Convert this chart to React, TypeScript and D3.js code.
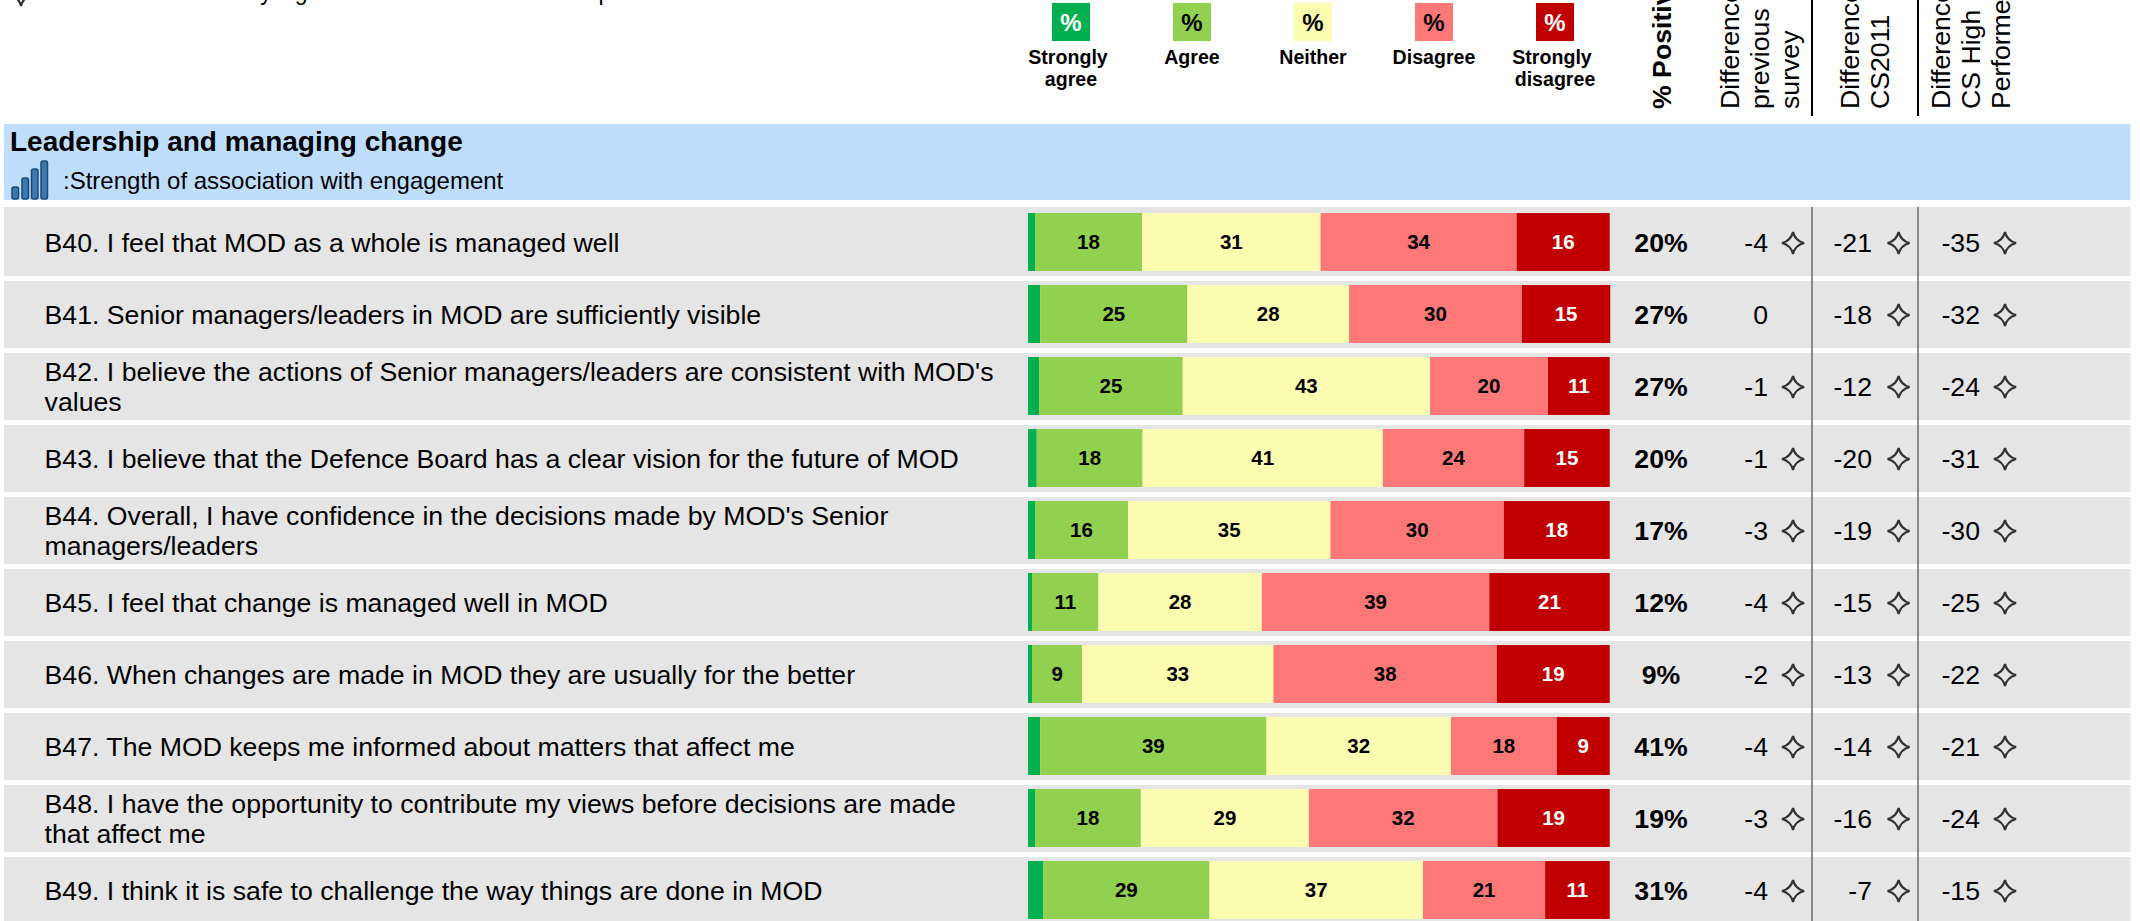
import React from "react";
import * as d3 from "d3";

const questionLines: string[][] = [
  ["B40. I feel that MOD as a whole is managed well"],
  ["B41. Senior managers/leaders in MOD are sufficiently visible"],
  ["B42. I believe the actions of Senior managers/leaders are consistent with MOD's", "values"],
  ["B43. I believe that the Defence Board has a clear vision for the future of MOD"],
  ["B44. Overall, I have confidence in the decisions made by MOD's Senior", "managers/leaders"],
  ["B45. I feel that change is managed well in MOD"],
  ["B46. When changes are made in MOD they are usually for the better"],
  ["B47. The MOD keeps me informed about matters that affect me"],
  ["B48. I have the opportunity to contribute my views before decisions are made", "that affect me"],
  ["B49. I think it is safe to challenge the way things are done in MOD"],
];
const seriesNames = ["Strongly agree", "Agree", "Neither", "Disagree", "Strongly disagree"];
const legendLines = [["Strongly", "agree"], ["Agree"], ["Neither"], ["Disagree"], ["Strongly", "disagree"]];
const seriesColors = ["#00B050", "#92D050", "#FCFDB0", "#FF7878", "#C00000"];
const seriesInk = ["#fff", "#000", "#000", "#000", "#fff"];

const stronglyAgree = [1.2, 2.1, 1.9, 1.5, 1.2, 0.7, 0.7, 2.1, 1.2, 2.6];
const agree = [18.4, 25.3, 24.7, 18.2, 16.0, 11.4, 8.6, 38.9, 18.2, 28.6];
const neither = [30.7, 27.8, 42.5, 41.3, 34.8, 28.1, 32.9, 31.7, 28.9, 36.7];
const disagree = [33.7, 29.7, 20.3, 24.3, 29.8, 39.1, 38.4, 18.2, 32.4, 21.0];
const stronglyDisagree = [16.0, 15.2, 10.6, 14.7, 18.2, 20.7, 19.4, 9.1, 19.3, 11.1];

const percentPositive = [20, 27, 27, 20, 17, 12, 9, 41, 19, 31];
const diffPrevious = [-4, 0, -1, -1, -3, -4, -2, -4, -3, -4];
const diffCS2011 = [-21, -18, -12, -20, -19, -15, -13, -14, -16, -7];
const diffHigh = [-35, -32, -24, -31, -30, -25, -22, -21, -24, -15];

const rotatedHeaders = [
  { lines: ["Difference from", "previous", "survey"], x: 1738.6 },
  { lines: ["Difference from", "CS2011"], x: 1859 },
  { lines: ["Difference from", "CS High", "Performers"], x: 1950 },
];
const FONT = "'Liberation Sans', Arial, sans-serif";

const starPath = (r: number) => {
  const p = d3.path();
  const c = r * 0.2;
  p.moveTo(0, -r);
  p.quadraticCurveTo(c, -c, r, 0);
  p.quadraticCurveTo(c, c, 0, r);
  p.quadraticCurveTo(-c, c, -r, 0);
  p.quadraticCurveTo(-c, -c, 0, -r);
  p.closePath();
  return p.toString();
};

const Star = ({ x, y }: { x: number; y: number }) => (
  <path d={starPath(11)} transform={`translate(${x},${y})`} fill="none" stroke="#333" strokeWidth={2.2} strokeLinejoin="miter" />
);

export default function App() {
  const x = d3.scaleLinear().domain([0, 100]).range([1028, 1609.7]);
  const y = d3.scaleLinear().domain([0, 1]).range([213, 285]);
  const table = questionLines.map((_, i) => ({
    a: stronglyAgree[i], b: agree[i], c: neither[i], d: disagree[i], e: stronglyDisagree[i],
  }));
  const stacks = d3.stack<any>().keys(["a", "b", "c", "d", "e"])(table);
  const legendX = d3.scalePoint<string>().domain(seriesNames).range([1071, 1555]);
  const barH = 58;
  const cols = [
    { vals: diffPrevious, right: 1768, star: 1793 },
    { vals: diffCS2011, right: 1872, star: 1898.6 },
    { vals: diffHigh, right: 1980, star: 2005 },
  ];
  return (
    <svg width={2140} height={921} viewBox="0 0 2140 921"
      style={{ position: "fixed", left: 0, top: 0, background: "#fff", fontFamily: FONT }}>
      {/* note */}
      <Star x={21} y={-5} />
      <text x={62} y={0} fontSize={23} fill="#000">Indicates statistically significant difference when compared</text>

      {/* legend */}
      {seriesNames.map((n, i) => {
        const cx = legendX(n)!;
        return (
          <g key={n}>
            <rect x={cx - 19} y={3} width={38} height={38} fill={seriesColors[i]} />
            <text x={cx} y={31} textAnchor="middle" fontSize={24} fontWeight="bold" fill={seriesInk[i]}>%</text>
            {legendLines[i].map((l, j) => (
              <text key={l} x={cx + (l === "Strongly" ? -3 : 0)} y={64 + j * 22} textAnchor="middle" fontSize={19.6} fontWeight="bold" fill="#000">{l}</text>
            ))}
          </g>
        );
      })}

      {/* rotated headers */}
      <text transform="translate(1670.7,109) rotate(-90)" fontSize={26.67} fontWeight="bold" fill="#000">% Positive</text>
      {rotatedHeaders.map((h) =>
        h.lines.map((l, j) => (
          <text key={h.x + l} transform={`translate(${h.x + j * 30},109) rotate(-90)`} fontSize={26.67} fill="#000">{l}</text>
        ))
      )}
      <line x1={1812} x2={1812} y1={0} y2={116} stroke="#000" strokeWidth={2} />
      <line x1={1918} x2={1918} y1={0} y2={116} stroke="#000" strokeWidth={2} />

      {/* section band */}
      <rect x={4} y={124} width={2126.5} height={76} fill="#BFDEFE" />
      <text x={10} y={151} fontSize={28} fontWeight="bold" fill="#000">Leadership and managing change</text>
      {[[12, 187], [22, 178], [31.5, 169], [41, 161]].map(([bx, by]) => (
        <rect key={bx} x={bx} y={by} width={6.5} height={199 - by} rx={2} fill="#3F78AE" stroke="#1B4A78" strokeWidth={1.5} />
      ))}
      <text x={63} y={188.7} fontSize={24} fill="#000">:Strength of association with engagement</text>

      {/* rows */}
      {questionLines.map((lines, i) => {
        const top = y(i);
        return (
          <rect key={i} x={4} y={i === 0 ? top - 6 : top - 4} width={2126.5}
            height={i === 0 ? barH + 11 : barH + 9} fill="#E5E5E5" />
        );
      })}
      <line x1={1812} x2={1812} y1={207} y2={921} stroke="#555" strokeWidth={1.3} />
      <line x1={1918} x2={1918} y1={207} y2={921} stroke="#555" strokeWidth={1.3} />

      {questionLines.map((lines, i) => {
        const mid = y(i) + barH / 2;
        const first = mid + 9.7 - (lines.length - 1) * 15;
        return (
          <g key={i}>
            {lines.map((l, j) => (
              <text key={j} x={44.6} y={first + j * 30} fontSize={26.67} fill="#000">{l}</text>
            ))}
            <text x={1661} y={mid + 9.7} textAnchor="middle" fontSize={26.67} fontWeight="bold" fill="#000">{percentPositive[i]}%</text>
            {cols.map((c) => (
              <g key={c.right}>
                <text x={c.right} y={mid + 9.7} textAnchor="end" fontSize={26.67} fill="#000">{c.vals[i]}</text>
                {c.vals[i] !== 0 && <Star x={c.star} y={mid + 1} />}
              </g>
            ))}
          </g>
        );
      })}

      {/* bars */}
      {stacks.map((s, k) => (
        <g key={s.key}>
          {s.map((d, i) => (
            <rect key={i} x={x(d[0])} y={y(i)} width={x(d[1]) - x(d[0])} height={barH} fill={seriesColors[k]} />
          ))}
          {k > 0 && s.map((d, i) => (
            <text key={i} x={(x(d[0]) + x(d[1])) / 2} y={y(i) + barH / 2 + 7.3} textAnchor="middle"
              fontSize={20.5} fontWeight="bold" fill={seriesInk[k]}>{Math.round(d[1] - d[0])}</text>
          ))}
        </g>
      ))}
    </svg>
  );
}
